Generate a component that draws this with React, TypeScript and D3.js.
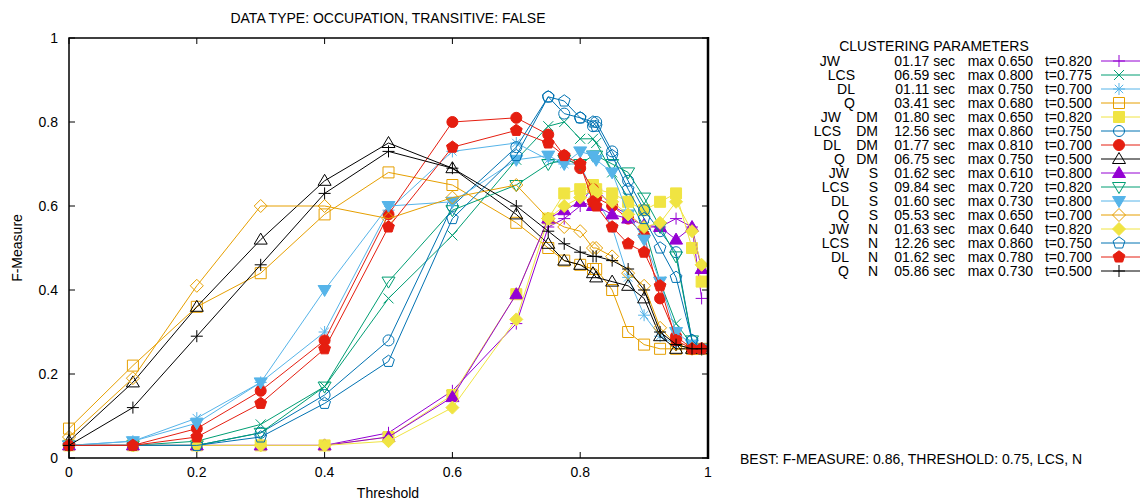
import * as d3 from 'd3';
import React, { useEffect, useRef } from 'react';

// thresholds used on the x axis
const thresholds = [0, 0.1, 0.2, 0.3, 0.4, 0.5, 0.6, 0.7, 0.75, 0.775, 0.8, 0.82, 0.825, 0.85, 0.875, 0.9, 0.925, 0.95, 0.975, 0.99];

// F-measure per clustering configuration
const jw = [0.03, 0.03, 0.03, 0.03, 0.03, 0.06, 0.16, 0.32, 0.55, 0.57, 0.60, 0.65, 0.64, 0.60, 0.58, 0.55, 0.55, 0.57, 0.55, 0.38];
const lcs = [0.03, 0.03, 0.04, 0.08, 0.17, 0.38, 0.53, 0.71, 0.79, 0.80, 0.76, 0.76, 0.75, 0.68, 0.62, 0.55, 0.42, 0.32, 0.27, 0.26];
const dl = [0.03, 0.04, 0.095, 0.18, 0.30, 0.59, 0.73, 0.75, 0.71, 0.70, 0.70, 0.63, 0.62, 0.55, 0.43, 0.34, 0.29, 0.27, 0.26, 0.26];
const q = [0.07, 0.22, 0.36, 0.44, 0.58, 0.68, 0.65, 0.56, 0.50, 0.47, 0.46, 0.45, 0.45, 0.40, 0.30, 0.27, 0.26, 0.26, 0.26, 0.26];
const jwDm = [0.03, 0.03, 0.03, 0.03, 0.03, 0.05, 0.15, 0.39, 0.57, 0.63, 0.64, 0.65, 0.64, 0.63, 0.61, 0.59, 0.61, 0.63, 0.50, 0.42];
const lcsDm = [0.03, 0.03, 0.03, 0.06, 0.15, 0.28, 0.60, 0.74, 0.86, 0.82, 0.81, 0.79, 0.80, 0.73, 0.66, 0.59, 0.54, 0.49, 0.28, 0.26];
const dlDm = [0.03, 0.03, 0.07, 0.16, 0.28, 0.58, 0.80, 0.81, 0.77, 0.72, 0.69, 0.64, 0.62, 0.60, 0.57, 0.53, 0.38, 0.29, 0.26, 0.26];
const qDm = [0.04, 0.18, 0.36, 0.52, 0.66, 0.75, 0.69, 0.58, 0.51, 0.47, 0.46, 0.44, 0.43, 0.42, 0.41, 0.38, 0.29, 0.26, 0.26, 0.26];
const jwS = [0.03, 0.03, 0.03, 0.03, 0.03, 0.05, 0.145, 0.39, 0.57, 0.59, 0.61, 0.60, 0.60, 0.58, 0.57, 0.555, 0.55, 0.52, 0.55, 0.45];
const lcsS = [0.03, 0.03, 0.03, 0.06, 0.17, 0.42, 0.59, 0.65, 0.70, 0.71, 0.70, 0.72, 0.72, 0.70, 0.68, 0.62, 0.55, 0.48, 0.28, 0.26];
const dlS = [0.03, 0.04, 0.083, 0.18, 0.40, 0.60, 0.61, 0.71, 0.72, 0.70, 0.73, 0.72, 0.71, 0.68, 0.58, 0.52, 0.42, 0.30, 0.27, 0.26];
const qS = [0.05, 0.19, 0.41, 0.60, 0.60, 0.57, 0.62, 0.65, 0.57, 0.55, 0.54, 0.50, 0.50, 0.48, 0.44, 0.41, 0.31, 0.27, 0.26, 0.26];
const jwN = [0.03, 0.03, 0.03, 0.03, 0.03, 0.04, 0.12, 0.33, 0.57, 0.60, 0.62, 0.64, 0.63, 0.61, 0.58, 0.55, 0.56, 0.61, 0.54, 0.46];
const lcsN = [0.03, 0.03, 0.03, 0.05, 0.13, 0.23, 0.57, 0.72, 0.86, 0.85, 0.81, 0.80, 0.79, 0.72, 0.64, 0.57, 0.50, 0.43, 0.28, 0.26];
const dlN = [0.03, 0.03, 0.05, 0.13, 0.26, 0.55, 0.74, 0.78, 0.75, 0.72, 0.70, 0.61, 0.60, 0.55, 0.51, 0.49, 0.41, 0.28, 0.26, 0.26];
const qN = [0.03, 0.12, 0.29, 0.46, 0.63, 0.73, 0.69, 0.60, 0.54, 0.51, 0.49, 0.48, 0.48, 0.47, 0.45, 0.40, 0.30, 0.27, 0.26, 0.26];

// legend text
const names = ['JW', 'LCS', 'DL', 'Q', 'JW', 'LCS', 'DL', 'Q', 'JW', 'LCS', 'DL', 'Q', 'JW', 'LCS', 'DL', 'Q'];
const mods = ['', '', '', '', 'DM', 'DM', 'DM', 'DM', 'S', 'S', 'S', 'S', 'N', 'N', 'N', 'N'];
const times = ['01.17', '06.59', '01.11', '03.41', '01.80', '12.56', '01.77', '06.75', '01.62', '09.84', '01.60', '05.53', '01.63', '12.26', '01.62', '05.86'];
const maxes = ['0.650', '0.800', '0.750', '0.680', '0.650', '0.860', '0.810', '0.750', '0.610', '0.720', '0.730', '0.650', '0.640', '0.860', '0.780', '0.730'];
const bestT = ['0.820', '0.775', '0.700', '0.500', '0.820', '0.750', '0.700', '0.500', '0.800', '0.820', '0.800', '0.700', '0.820', '0.750', '0.700', '0.500'];
const xTicks = [0, 0.2, 0.4, 0.6, 0.8, 1];
const yTicks = [0, 0.2, 0.4, 0.6, 0.8, 1];

const values = [jw, lcs, dl, q, jwDm, lcsDm, dlDm, qDm, jwS, lcsS, dlS, qS, jwN, lcsN, dlN, qN];
const colors = ['#9400d3', '#009e73', '#56b4e9', '#e69f00', '#f0e442', '#0072b2', '#e51e10', '#000000'];
const pointTypes = ['plus', 'cross', 'star', 'square', 'fsquare', 'circle', 'fcircle', 'tri', 'ftri', 'tridown', 'ftridown', 'diamond', 'fdiamond', 'pent', 'fpent', 'plus'];

const FONT = '"Liberation Sans", Arial, Helvetica, sans-serif';

function markerPath(kind: string): string {
    const k = kind.replace(/^f/, '');
    if (k === 'plus') return 'M-6,0H6M0,-6V6';
    if (k === 'cross') return 'M-5,-5L5,5M-5,5L5,-5';
    if (k === 'star') return 'M-6,0H6M0,-6V6M-4.2,-4.2L4.2,4.2M-4.2,4.2L4.2,-4.2';
    if (k === 'square') return 'M-5.5,-5.5H5.5V5.5H-5.5Z';
    if (k === 'circle') return 'M5.5,0A5.5,5.5 0 1,1 -5.5,0A5.5,5.5 0 1,1 5.5,0Z';
    if (k === 'tri') return 'M0,-6.5L6.5,4.5L-6.5,4.5Z';
    if (k === 'tridown') return 'M0,6.5L6.5,-4.5L-6.5,-4.5Z';
    if (k === 'diamond') return 'M0,-6.5L6.5,0L0,6.5L-6.5,0Z';
    const pts = d3.range(5).map(i => {
        const a = -Math.PI / 2 + i * 2 * Math.PI / 5;
        return [6.2 * Math.cos(a), 6.2 * Math.sin(a)];
    });
    return 'M' + pts.map(p => p[0].toFixed(2) + ',' + p[1].toFixed(2)).join('L') + 'Z';
}

const App = () => {
    const ref = useRef<SVGSVGElement>(null);

    useEffect(() => {
        const svg = d3.select(ref.current);
        svg.selectAll('*').remove();

        const x = d3.scaleLinear().domain([0, 1]).range([69, 708]);
        const y = d3.scaleLinear().domain([0, 1]).range([458, 38]);

        svg.append('rect').attr('width', 1144).attr('height', 501).attr('fill', '#fff');

        // title
        svg.append('text').attr('x', 388).attr('y', 23).attr('text-anchor', 'middle')
            .attr('font-size', 14).text('DATA TYPE: OCCUPATION, TRANSITIVE: FALSE');

        // ticks (inward on all four sides)
        const axes = svg.append('g').attr('stroke', '#000').attr('stroke-width', 1);
        xTicks.forEach(t => {
            axes.append('line').attr('x1', x(t)).attr('x2', x(t)).attr('y1', 458).attr('y2', 452);
            axes.append('line').attr('x1', x(t)).attr('x2', x(t)).attr('y1', 38).attr('y2', 44);
        });
        yTicks.forEach(t => {
            axes.append('line').attr('x1', 69).attr('x2', 75).attr('y1', y(t)).attr('y2', y(t));
            axes.append('line').attr('x1', 708).attr('x2', 702).attr('y1', y(t)).attr('y2', y(t));
        });

        svg.selectAll('.xl').data(xTicks).enter().append('text')
            .attr('x', d => x(d)).attr('y', 477).attr('text-anchor', 'middle')
            .attr('font-size', 14).text(d => d3.format('~g')(d));
        svg.selectAll('.yl').data(yTicks).enter().append('text')
            .attr('x', 58).attr('y', d => y(d) + 5).attr('text-anchor', 'end')
            .attr('font-size', 14).text(d => d3.format('~g')(d));

        svg.append('text').attr('x', 388).attr('y', 498).attr('text-anchor', 'middle')
            .attr('font-size', 14).text('Threshold');
        svg.append('text').attr('transform', 'translate(22,248) rotate(-90)').attr('text-anchor', 'middle')
            .attr('font-size', 14).text('F-Measure');

        // series
        const line = d3.line<number>().x((d, i) => x(thresholds[i])).y(d => y(d));
        values.forEach((vals, si) => {
            const c = colors[si % 8];
            const pt = pointTypes[si];
            const filled = pt.startsWith('f');
            const g = svg.append('g');
            g.append('path').attr('d', line(vals)).attr('fill', 'none').attr('stroke', c).attr('stroke-width', 1);
            g.selectAll('path.m').data(vals).enter().append('path').attr('class', 'm')
                .attr('transform', (d, i) => `translate(${x(thresholds[i])},${y(d)})`)
                .attr('d', markerPath(pt))
                .attr('fill', filled ? c : 'none')
                .attr('stroke', c).attr('stroke-width', 1);
        });

        // border
        svg.append('rect').attr('x', 69).attr('y', 38).attr('width', 639).attr('height', 420)
            .attr('fill', 'none').attr('stroke', '#000').attr('stroke-width', 1.5);
        svg.append('line').attr('x1', 708).attr('x2', 708).attr('y1', 37).attr('y2', 459)
            .attr('stroke', '#000').attr('stroke-width', 2.5);

        // legend
        const lg = svg.append('g').attr('font-size', 14);
        lg.append('text').attr('x', 934).attr('y', 51).attr('text-anchor', 'middle').text('CLUSTERING PARAMETERS');
        names.forEach((n, i) => {
            const by = 66 + i * 14;
            const m = mods[i];
            let nameEnd = 855;
            if (m === '') nameEnd = n === 'JW' ? 840 : 855;
            else if (m === 'DM') nameEnd = n === 'Q' ? 845 : 841;
            else nameEnd = 849;
            lg.append('text').attr('x', nameEnd).attr('y', by).attr('text-anchor', 'end').text(n);
            if (m) lg.append('text').attr('x', 878).attr('y', by).attr('text-anchor', 'end').text(m);
            lg.append('text').attr('x', 955).attr('y', by).attr('text-anchor', 'end').text(times[i] + ' sec');
            lg.append('text').attr('x', 1033).attr('y', by).attr('text-anchor', 'end').text('max ' + maxes[i]);
            lg.append('text').attr('x', 1092).attr('y', by).attr('text-anchor', 'end').text('t=' + bestT[i]);
            const c = colors[i % 8];
            const pt = pointTypes[i];
            lg.append('line').attr('x1', 1101).attr('x2', 1140).attr('y1', by - 5).attr('y2', by - 5)
                .attr('stroke', c).attr('stroke-width', 1);
            lg.append('path').attr('transform', `translate(1119,${by - 5})`).attr('d', markerPath(pt))
                .attr('fill', pt.startsWith('f') ? c : 'none').attr('stroke', c);
        });

        svg.append('text').attr('x', 740).attr('y', 464).attr('font-size', 14)
            .text('BEST: F-MEASURE: 0.86, THRESHOLD: 0.75, LCS, N');
    }, []);

    return (
        <div style={{ position: 'absolute', left: 0, top: 0 }}>
            <svg ref={ref} width={1144} height={501} style={{ fontFamily: FONT, display: 'block' }}></svg>
        </div>
    );
};

export default App;
